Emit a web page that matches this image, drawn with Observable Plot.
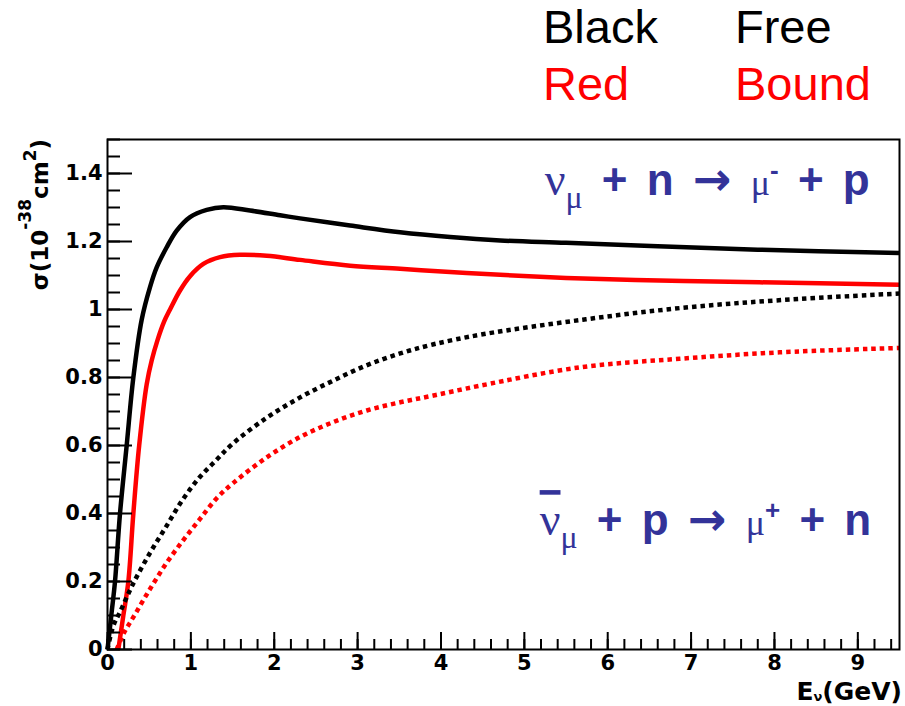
<!DOCTYPE html>
<html>
<head>
<meta charset="utf-8">
<script src="https://cdn.jsdelivr.net/npm/d3@7"></script>
<script src="https://cdn.jsdelivr.net/npm/@observablehq/plot@0.6"></script>
<style>
  body { margin: 0; background: #fff; }
  #chart svg { display: block; }
</style>
</head>
<body>
<div id="chart"></div>
<script>
// Quasi-elastic cross sections, sigma in 10^-38 cm^2 versus neutrino energy in GeV.
// nu_mu + n -> mu- + p on a free nucleon
const freeNuE     = [0, 0.05, 0.09, 0.15, 0.23, 0.31, 0.41, 0.51, 0.59, 0.71, 0.83, 0.99, 1.19, 1.39, 1.71, 2.07, 2.31, 2.91, 3.51, 4.11, 4.71, 5.5, 6.6, 7.8, 9.5];
const freeNuSigma = [0, 0.11, 0.2, 0.4, 0.6, 0.8, 0.97, 1.066, 1.124, 1.183, 1.232, 1.272, 1.293, 1.301, 1.291, 1.277, 1.268, 1.247, 1.227, 1.213, 1.203, 1.196, 1.186, 1.176, 1.166];

// nu_mu + n -> mu- + p on a bound nucleon
const boundNuE     = [0.13, 0.19, 0.25, 0.31, 0.38, 0.47, 0.53, 0.6, 0.68, 0.75, 0.87, 0.99, 1.15, 1.35, 1.59, 1.91, 2.31, 2.91, 3.51, 4.11, 4.71, 5.5, 6.62, 7.82, 9.5];
const boundNuSigma = [0, 0.1, 0.2, 0.4, 0.6, 0.78, 0.85, 0.91, 0.965, 1.0, 1.056, 1.098, 1.134, 1.154, 1.161, 1.158, 1.146, 1.129, 1.12, 1.11, 1.102, 1.093, 1.085, 1.08, 1.073];

// anti-nu_mu + p -> mu+ + n on a free nucleon
const freeNubarE     = [0, 0.07, 0.15, 0.3, 0.5, 0.7, 0.9, 1.1, 1.3, 1.5, 1.9, 2.3, 2.7, 3.1, 3.5, 3.9, 4.5, 5.7, 6.9, 8.1, 9.5];
const freeNubarSigma = [0, 0.07, 0.11, 0.19, 0.28, 0.36, 0.44, 0.505, 0.556, 0.605, 0.68, 0.74, 0.79, 0.835, 0.87, 0.897, 0.927, 0.97, 1.005, 1.028, 1.047];

// anti-nu_mu + p -> mu+ + n on a bound nucleon
const boundNubarE     = [0.11, 0.2, 0.31, 0.51, 0.71, 0.91, 1.11, 1.31, 1.51, 1.91, 2.31, 2.71, 3.11, 3.51, 3.91, 4.47, 5.67, 6.86, 8.06, 9.5];
const boundNubarSigma = [0, 0.05, 0.095, 0.178, 0.255, 0.322, 0.384, 0.445, 0.49, 0.565, 0.625, 0.669, 0.703, 0.727, 0.747, 0.776, 0.83, 0.855, 0.874, 0.887];

// Axis ticks
const xTickLabels = [0, 1, 2, 3, 4, 5, 6, 7, 8, 9];
const xMinorTicks = d3.range(0, 48).map(i => i / 5);
const yTickLabels = [0, 0.2, 0.4, 0.6, 0.8, 1, 1.2, 1.4];
const yMinorTicks = d3.range(0, 31).map(i => i / 20);

const toRows = (E, S, series) => E.map((e, i) => ({E: e, sigma: S[i], series}));
const curves = [
  {rows: toRows(freeNuE, freeNuSigma, "free ν"), stroke: "#000000", dash: null},
  {rows: toRows(boundNuE, boundNuSigma, "bound ν"), stroke: "#ff0000", dash: null},
  {rows: toRows(freeNubarE, freeNubarSigma, "free ν̄"), stroke: "#000000", dash: "4.5,4"},
  {rows: toRows(boundNubarE, boundNubarSigma, "bound ν̄"), stroke: "#ff0000", dash: "4.5,4"}
];

const W = 905, H = 706;
const mLeft = 107, mRight = 6, mTop = 139, mBottom = 57;
const axisFont = "'DejaVu Sans', sans-serif";

const chart = Plot.plot({
  width: W,
  height: H,
  marginLeft: mLeft,
  marginRight: mRight,
  marginTop: mTop,
  marginBottom: mBottom,
  style: {fontFamily: axisFont, background: "#fff"},
  x: {domain: [0, 9.5]},
  y: {domain: [0, 1.5]},
  marks: [
    ...curves.map(c => Plot.line(c.rows, {
      x: "E", y: "sigma", stroke: c.stroke, strokeWidth: 4.5,
      strokeDasharray: c.dash, strokeLinecap: "butt", strokeLinejoin: "round",
      curve: "catmull-rom"
    })),
    // inward ticks
    Plot.axisX({ticks: xMinorTicks, tickSize: -10, text: null, label: null, strokeWidth: 2}),
    Plot.axisX({ticks: xTickLabels, tickSize: -17, text: null, label: null, strokeWidth: 2}),
    Plot.axisY({ticks: yMinorTicks, tickSize: -13, text: null, label: null, strokeWidth: 2}),
    Plot.axisY({ticks: yTickLabels, tickSize: -25, text: null, label: null, strokeWidth: 2}),
    // tick labels
    Plot.axisX({ticks: xTickLabels, tickSize: 0, tickPadding: 6, label: null,
      fontSize: 21, fontWeight: "bold", tickFormat: d3.format("~g")}),
    Plot.axisY({ticks: yTickLabels, tickSize: 0, tickPadding: 5, label: null,
      fontSize: 21, fontWeight: "bold", tickFormat: d3.format("~g")}),
    Plot.frame({stroke: "#000", strokeWidth: 2})
  ]
});

document.getElementById("chart").appendChild(chart);

const svg = d3.select(chart);
const xs = chart.scale("x"), ys = chart.scale("y");

// y-axis title: sigma(10^-38 cm^2)
svg.append("text")
  .attr("transform", `translate(48,${mTop}) rotate(-90)`)
  .attr("text-anchor", "end")
  .attr("fill", "#000")
  .style("font", `bold 23px ${axisFont}`)
  .call(t => {
    t.append("tspan").text("σ(10");
    t.append("tspan").attr("dy", -17).style("font-size", "17px").text("-38");
    t.append("tspan").attr("dy", 17).text("cm");
    t.append("tspan").attr("dy", -12).style("font-size", "17px").text("2");
    t.append("tspan").attr("dy", 12).text(")");
  });

// x-axis title: E_nu (GeV)
svg.append("text")
  .attr("x", W - 3).attr("y", 700)
  .attr("text-anchor", "end")
  .attr("fill", "#000")
  .style("font", `bold 25px ${axisFont}`)
  .call(t => {
    t.append("tspan").text("E");
    t.append("tspan").attr("dy", 1).style("font-size", "13px").text("ν");
    t.append("tspan").attr("dy", -1).text("(GeV)");
  });

// Legend for the two colours
const legendRows = [
  {colour: "#000000", a: "Black", b: "Free", y: 43},
  {colour: "#ff0000", a: "Red", b: "Bound", y: 100}
];
for (const r of legendRows) {
  const g = svg.append("g").attr("fill", r.colour).attr("text-anchor", "start")
    .style("font", "47px 'Liberation Sans', Arial, sans-serif");
  g.append("text").attr("x", 543).attr("y", r.y).text(r.a);
  g.append("text").attr("x", 735).attr("y", r.y).text(r.b);
}

// Reaction labels, anchored at a point in data coordinates
const reactionLabels = [
  {E: 5.25, sigma: 1.335, bar: false, target: "n", lepton: "-", product: "p"},
  {E: 5.19, sigma: 0.335, bar: true,  target: "p", lepton: "+", product: "n"}
];
const blue = "#333399";
const greek = "'Liberation Serif', 'DejaVu Serif', serif";
for (const r of reactionLabels) {
  const t = svg.append("text")
    .attr("x", xs.apply(r.E)).attr("y", ys.apply(r.sigma))
    .attr("text-anchor", "start")
    .attr("fill", blue)
    .style("white-space", "pre")
    .style("word-spacing", "7px")
    .style("font", "bold 44px 'Liberation Sans', Arial, sans-serif");
  const nu = t.append("tspan").style("font", `46px ${greek}`).text("ν");
  if (r.bar) nu.style("text-decoration", "overline").style("text-decoration-thickness", "5px");
  t.append("tspan").attr("dy", 13).style("font", `32px ${greek}`).text("μ");
  t.append("tspan").attr("dy", -13).text(" + " + r.target + " ");
  t.append("tspan").style("font", `bold 46px ${axisFont}`).text("→");
  t.append("tspan").text(" ");
  t.append("tspan").style("font", `36px ${greek}`).text("μ");
  t.append("tspan").attr("dy", -16).style("font-size", "26px").text(r.lepton);
  t.append("tspan").attr("dy", 16).text(" + " + r.product);
}
</script>
</body>
</html>
